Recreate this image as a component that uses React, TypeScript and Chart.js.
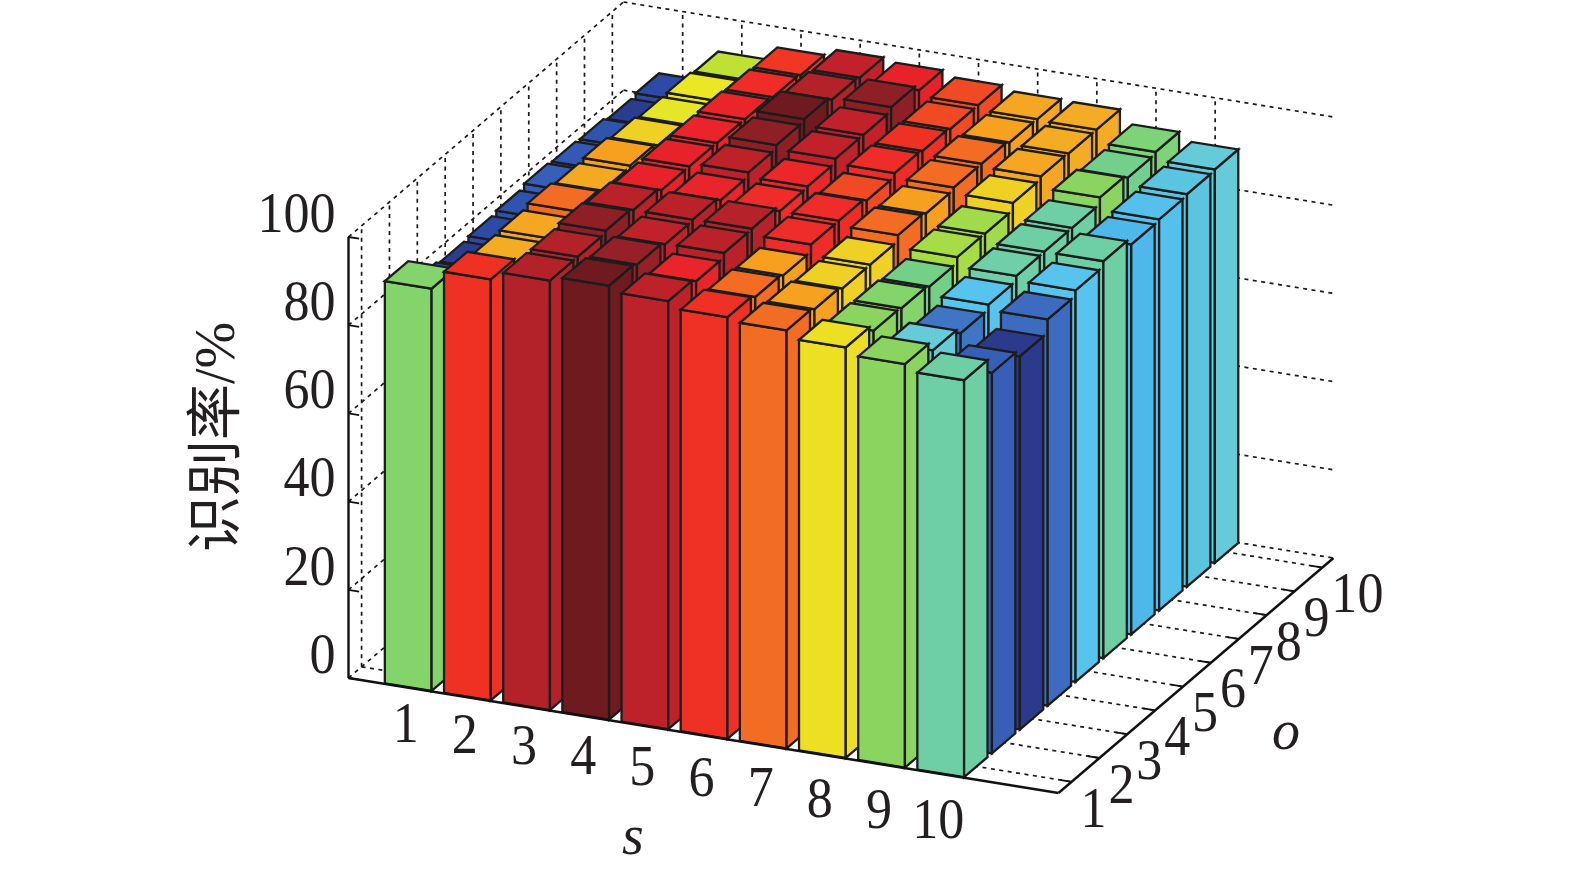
import React, { useEffect, useRef } from "react";
import { Chart, registerables } from "chart.js";

Chart.register(...registerables);

const sTicks = [1, 2, 3, 4, 5, 6, 7, 8, 9, 10];
const oTicks = [1, 2, 3, 4, 5, 6, 7, 8, 9, 10];
const zTicks = [0, 20, 40, 60, 80, 100];

// recognition rate: one row per o, values for s = 1..10
const o1 = [91.2, 95.5, 97.4, 98.4, 97.1, 95.6, 94.8, 93.1, 91.5, 90.0];
const o2 = [85.5, 93.9, 97.4, 97.8, 96.2, 94.8, 94.2, 91.5, 89.2, 86.3];
const o3 = [84.8, 94.1, 97.9, 97.0, 97.2, 94.3, 93.5, 91.2, 87.7, 84.6];
const o4 = [85.2, 94.8, 97.2, 97.2, 97.3, 95.9, 93.5, 90.7, 88.8, 87.6];
const o5 = [85.6, 94.0, 96.3, 96.2, 95.9, 95.9, 94.8, 92.0, 89.9, 88.8];
const o6 = [86.3, 94.3, 96.3, 97.1, 96.1, 95.1, 94.3, 91.9, 90.0, 90.0];
const o7 = [85.9, 93.5, 96.2, 97.9, 97.0, 95.9, 94.8, 93.5, 90.0, 88.4];
const o8 = [85.6, 92.8, 96.2, 98.4, 97.0, 95.5, 94.8, 94.1, 91.5, 88.7];
const o9 = [84.8, 92.9, 95.8, 97.4, 97.9, 95.1, 94.2, 93.9, 90.6, 89.0];
const o10 = [85.2, 92.3, 95.4, 97.0, 96.3, 95.1, 94.1, 93.9, 91.0, 89.2];
const rows = [o1, o2, o3, o4, o5, o6, o7, o8, o9, o10];

const colorValues = [84.7, 85.2, 85.8, 86.5, 87.6, 88.4, 88.8, 89.0, 89.2, 89.9, 90.6, 91.2, 91.5, 92.0, 92.3, 92.9, 93.5, 93.9, 94.3, 94.8, 95.1, 95.5, 95.9, 96.3, 97.0, 97.4, 97.9, 98.4];
const colorHexes = ["#2B3A8C", "#2D4BA6", "#2F58B5", "#3A62B8", "#3D6BBF", "#4FB8EA", "#56C4EC", "#5BC5E0", "#66CBD8", "#6ECFA8", "#72CF8C", "#84D46C", "#8BD460", "#A6DC45", "#BEE133", "#ECE724", "#EFD024", "#F3AC24", "#F79F1F", "#F36C24", "#F04A25", "#EF3124", "#EE2C2A", "#E8222A", "#C1212A", "#B22228", "#8E1F27", "#6E1A1F"];

const hex = (h: string) => [1, 3, 5].map((i) => parseInt(h.slice(i, i + 2), 16));
function colorOf(v: number) {
  if (v <= colorValues[0]) return colorHexes[0];
  for (let i = 1; i < colorValues.length; i++) {
    if (v <= colorValues[i]) {
      const t = (v - colorValues[i - 1]) / (colorValues[i] - colorValues[i - 1]);
      const a = hex(colorHexes[i - 1]);
      const b = hex(colorHexes[i]);
      return `rgb(${a.map((c, k) => Math.round(c + (b[k] - c) * t)).join(",")})`;
    }
  }
  return colorHexes[colorHexes.length - 1];
}

// view of the 3D box on the page
const ORIGIN = { x: 348.5, y: 678 };
const VIEW_S = { x: 710, y: 115 };
const VIEW_O = { x: 275, y: -235 };
const VIEW_Z = { x: 0, y: -441 };
const BAR_S = 0.79;
const BAR_FRONT = 0.45;
const BAR_BACK = 0.39;
const SERIF = '"Liberation Serif"';
const TEXT_SQUEEZE = 0.93;

const box3d = {
  id: "box3d",
  afterDatasetsDraw(chart: any) {
    const { ctx, scales } = chart;
    const sx = scales.x;
    const oz = scales.o;
    const zy = scales.y;
    const P = (s: number, o: number, z: number) => {
      const a = (sx.getPixelForValue(s) - sx.left) / sx.width;
      const b = (oz.getPixelForValue(o) - oz.left) / oz.width;
      const c = (zy.bottom - zy.getPixelForValue(z)) / zy.height;
      return {
        x: ORIGIN.x + a * VIEW_S.x + b * VIEW_O.x + c * VIEW_Z.x,
        y: ORIGIN.y + a * VIEW_S.y + b * VIEW_O.y + c * VIEW_Z.y,
      };
    };
    const sMin = sx.min, sMax = sx.max, oMin = oz.min, oMax = oz.max, zMax = zy.max;
    const line = (a: any, b: any) => {
      ctx.beginPath();
      ctx.moveTo(a.x, a.y);
      ctx.lineTo(b.x, b.y);
      ctx.stroke();
    };
    const poly = (pts: any[], fill: string) => {
      ctx.beginPath();
      pts.forEach((p, i) => (i ? ctx.lineTo(p.x, p.y) : ctx.moveTo(p.x, p.y)));
      ctx.closePath();
      ctx.fillStyle = fill;
      ctx.fill();
      ctx.stroke();
    };
    const label = (t: string, x: number, y: number) => {
      ctx.save();
      ctx.translate(x, y);
      ctx.scale(TEXT_SQUEEZE, 1);
      ctx.fillText(t, 0, 0);
      ctx.restore();
    };

    ctx.save();
    // dashed grid
    ctx.strokeStyle = "#1a1a1a";
    ctx.lineWidth = 1.7;
    ctx.setLineDash([4, 4.5]);
    zTicks.forEach((z) => {
      line(P(sMin, oMin, z), P(sMin, oMax, z));
      line(P(sMin, oMax, z), P(sMax, oMax, z));
    });
    oTicks.forEach((o) => {
      line(P(sMin, o, 0), P(sMin, o, zMax));
      line(P(sMin, o, 0), P(sMax, o, 0));
    });
    sTicks.forEach((s) => {
      line(P(s, oMax, 0), P(s, oMax, zMax));
      line(P(s, oMin, 0), P(s, oMax, 0));
    });
    ctx.setLineDash([]);

    // ticks on the floor sit under the bars
    ctx.lineWidth = 1.8;
    ctx.strokeStyle = "#111";
    oTicks.forEach((o) => line(P(sMax, o, 0), P(sMax - 0.2, o, 0)));
    sTicks.forEach((s) => line(P(s, oMin, 0), P(s, oMin + 0.25, 0)));

    // bars, far to near
    ctx.lineWidth = 2.3;
    ctx.lineJoin = "miter";
    ctx.strokeStyle = "#1c1c1c";
    const sets = chart.data.datasets;
    for (let k = sets.length - 1; k >= 0; k--) {
      const o = oTicks[k];
      sets[k].data.forEach((d: any) => {
        const s0 = d.x - BAR_S / 2, s1 = d.x + BAR_S / 2;
        const o0 = o - BAR_FRONT, o1 = o + BAR_BACK;
        const col = colorOf(d.y);
        poly([P(s0, o0, 0), P(s1, o0, 0), P(s1, o0, d.y), P(s0, o0, d.y)], col);
        poly([P(s1, o0, 0), P(s1, o1, 0), P(s1, o1, d.y), P(s1, o0, d.y)], col);
        poly([P(s0, o0, d.y), P(s1, o0, d.y), P(s1, o1, d.y), P(s0, o1, d.y)], col);
      });
    }

    // solid axes
    ctx.lineWidth = 2.4;
    ctx.strokeStyle = "#111";
    line(P(sMin, oMin, 0), P(sMin, oMin, zMax));
    line(P(sMin, oMin, 0), P(sMax, oMin, 0));
    line(P(sMax, oMin, 0), P(sMax, oMax, 0));
    ctx.lineWidth = 1.8;
    zTicks.forEach((z) => line(P(sMin, oMin, z), P(sMin + 0.18, oMin, z)));

    // tick labels
    ctx.fillStyle = "#231f20";
    ctx.font = `56px ${SERIF}`;
    ctx.textBaseline = "middle";
    ctx.textAlign = "right";
    zTicks.forEach((z) => {
      const p = P(sMin, oMin, z);
      label(String(z), p.x - 13, p.y - 20);
    });
    ctx.textAlign = "center";
    sTicks.forEach((s) => {
      const p = P(s, oMin, 0);
      label(String(s), p.x - 2, p.y + 40 + (s - 1) * 1.1);
    });
    ctx.textAlign = "left";
    oTicks.forEach((o) => {
      const p = P(sMax, o, 0);
      label(String(o), p.x + 9, p.y + 30);
    });

    // axis titles
    ctx.font = `italic 56px ${SERIF}`;
    ctx.textAlign = "center";
    ctx.fillText("s", 633, 839);
    ctx.fillText("o", 1286, 734);
    ctx.translate(219, 437);
    ctx.rotate(-Math.PI / 2);
    ctx.font = `56px ${SERIF}, "Noto Sans CJK SC"`;
    ctx.fillText("识别率/%", 0, 0);
    ctx.restore();
  },
};

export default function App() {
  const ref = useRef<HTMLCanvasElement>(null);
  useEffect(() => {
    const chart = new Chart(ref.current as HTMLCanvasElement, {
      type: "scatter",
      data: {
        datasets: rows.map((row, k) => ({
          label: `o=${oTicks[k]}`,
          data: row.map((v, i) => ({ x: sTicks[i], y: v })),
          pointRadius: 0,
          showLine: false,
        })),
      },
      options: {
        responsive: false,
        animation: false,
        plugins: { legend: { display: false }, tooltip: { enabled: false } },
        scales: {
          x: { type: "linear", min: 0, max: 12, display: false },
          y: { type: "linear", min: 0, max: 100, display: false },
          o: { type: "linear", axis: "x", min: 0.53, max: 10.4, display: false },
        },
      },
      plugins: [box3d],
    } as any);
    return () => chart.destroy();
  }, []);
  return (
    <div style={{ position: "fixed", left: 0, top: 0, width: 1575, height: 888, background: "#fff" }}>
      <canvas ref={ref} width={1575} height={888} style={{ display: "block" }} />
    </div>
  );
}
